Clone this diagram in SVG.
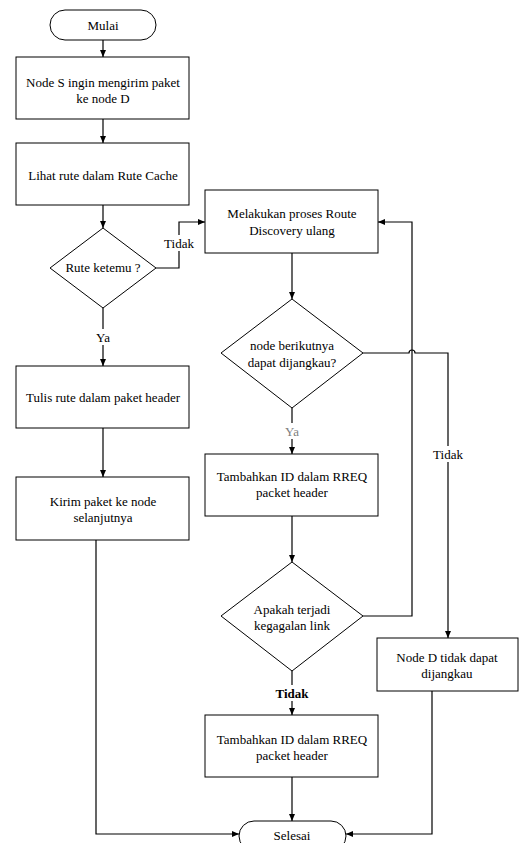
<svg xmlns="http://www.w3.org/2000/svg" width="520" height="843" viewBox="0 0 520 843">
<defs>
<marker id="ah" markerWidth="7" markerHeight="6" refX="7" refY="3" orient="auto" markerUnits="userSpaceOnUse">
<path d="M0,0 L7,3 L0,6 Z" fill="#000"/>
</marker>
<style>
.n{fill:#fff;stroke:#000;stroke-width:1}
.c{fill:none;stroke:#000;stroke-width:1.2}
text{font-family:'Liberation Serif','DejaVu Serif',serif;font-size:13px;fill:#000;text-anchor:middle}
.lb{fill:#fff;stroke:none}
.gray{fill:#808080}
.bold{font-weight:bold}
</style>
</defs>
<rect width="520" height="843" fill="#fff"/>
<g id="connectors">
<path class="c" d="M103,40 V57" marker-end="url(#ah)"/>
<path class="c" d="M103,119 V143" marker-end="url(#ah)"/>
<path class="c" d="M103,205 V228" marker-end="url(#ah)"/>
<path class="c" d="M156,268 H179 V222 H205" marker-end="url(#ah)"/>
<path class="c" d="M103,308 V366" marker-end="url(#ah)"/>
<path class="c" d="M103,428 V477" marker-end="url(#ah)"/>
<path class="c" d="M96,540 V834 H239" marker-end="url(#ah)"/>
<path class="c" d="M292,253 V299" marker-end="url(#ah)"/>
<path class="c" d="M363,353 H409 A3,3 0 0 1 415,353 H448 V638" marker-end="url(#ah)"/>
<path class="c" d="M292,408 V454" marker-end="url(#ah)"/>
<path class="c" d="M292,516 V562" marker-end="url(#ah)"/>
<path class="c" d="M363,616 H412 V222 H378" marker-end="url(#ah)"/>
<path class="c" d="M292,671 V715" marker-end="url(#ah)"/>
<path class="c" d="M292,777 V821" marker-end="url(#ah)"/>
<path class="c" d="M432,691 V834 H346" marker-end="url(#ah)"/>
<g id="labels">
<rect class="lb" x="163" y="235" width="32" height="16"/>
<text x="179" y="248">Tidak</text>
<rect class="lb" x="93" y="329" width="20" height="16"/>
<text x="103" y="342">Ya</text>
<rect class="lb" x="282" y="423" width="20" height="16"/>
<text class="gray" x="292" y="436">Ya</text>
<rect class="lb" x="432" y="446" width="32" height="16"/>
<text x="448" y="459">Tidak</text>
<rect class="lb" x="274" y="685" width="36" height="16"/>
<text class="bold" x="292" y="698">Tidak</text>
</g>
</g>
<g id="mulai">
<rect class="n" x="50" y="10" width="106" height="30" rx="15"/>
<text x="103" y="30">Mulai</text>
</g>
<g id="node-s">
<rect class="n" x="16" y="57" width="173" height="62"/>
<text x="103" y="87">Node S ingin mengirim paket</text>
<text x="103" y="103">ke node D</text>
</g>
<g id="lihat-rute">
<rect class="n" x="16" y="143" width="173" height="62"/>
<text x="103" y="180">Lihat rute dalam Rute Cache</text>
</g>
<g id="rute-ketemu">
<polygon class="n" points="103,228 156,268 103,308 50,268"/>
<text x="103" y="272">Rute ketemu ?</text>
</g>
<g id="tulis-rute">
<rect class="n" x="16" y="366" width="173" height="62"/>
<text x="103" y="402">Tulis rute dalam paket header</text>
</g>
<g id="kirim-paket">
<rect class="n" x="16" y="477" width="173" height="63"/>
<text x="103" y="506">Kirim paket ke node</text>
<text x="103" y="522">selanjutnya</text>
</g>
<g id="route-discovery">
<rect class="n" x="205" y="190" width="173" height="63"/>
<text x="292" y="218">Melakukan proses Route</text>
<text x="292" y="235">Discovery ulang</text>
</g>
<g id="node-berikutnya">
<polygon class="n" points="292,299 363,353 292,408 221,353"/>
<text x="292" y="350">node berikutnya</text>
<text x="292" y="367">dapat dijangkau?</text>
</g>
<g id="tambah-id-1">
<rect class="n" x="205" y="454" width="173" height="62"/>
<text x="292" y="481">Tambahkan ID dalam RREQ</text>
<text x="292" y="497">packet header</text>
</g>
<g id="kegagalan-link">
<polygon class="n" points="292,562 363,616 292,671 221,616"/>
<text x="292" y="614">Apakah terjadi</text>
<text x="292" y="630">kegagalan link</text>
</g>
<g id="tambah-id-2">
<rect class="n" x="205" y="715" width="173" height="62"/>
<text x="292" y="744">Tambahkan ID dalam RREQ</text>
<text x="292" y="760">packet header</text>
</g>
<g id="node-d">
<rect class="n" x="377" y="638" width="141" height="53"/>
<text x="447" y="662">Node D tidak dapat</text>
<text x="447" y="678">dijangkau</text>
</g>
<g id="selesai">
<rect class="n" x="239" y="821" width="107" height="30" rx="15"/>
<text x="292" y="840">Selesai</text>
</g>
</svg>
